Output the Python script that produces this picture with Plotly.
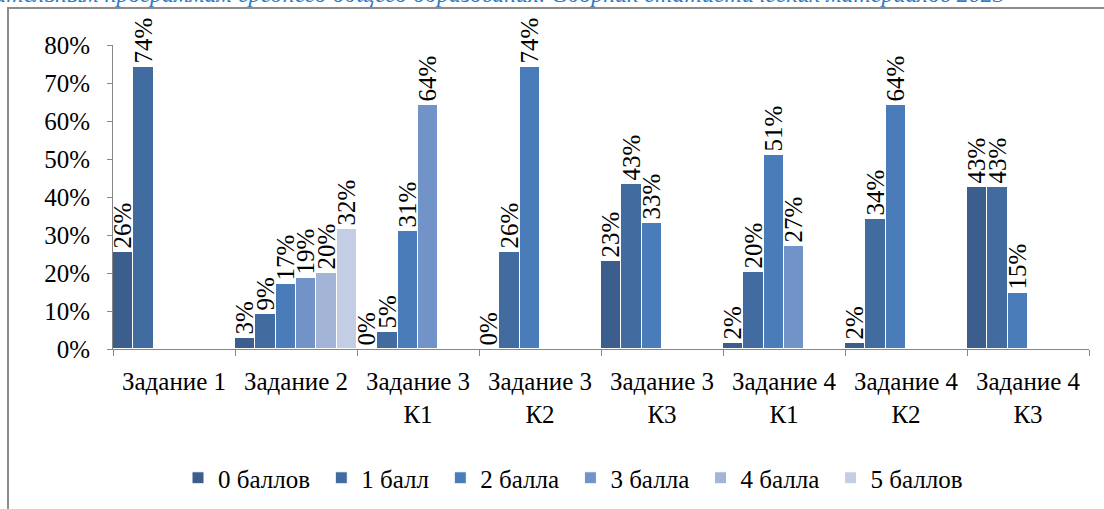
import plotly.graph_objects as go

categories = ["Задание 1", "Задание 2", "Задание 3<br>К1", "Задание 3<br>К2",
              "Задание 3<br>К3", "Задание 4<br>К1", "Задание 4<br>К2", "Задание 4<br>К3"]

series_names = ["0 баллов", "1 балл", "2 балла", "3 балла", "4 балла", "5 баллов"]

s0 = [25.5, 3.0, 0, 0, 23.2, 1.5, 1.5, 42.6]
s1 = [74.2, 9.3, 4.6, 25.5, 43.4, 20.2, 34.1, 42.6]
s2 = [None, 17.0, 31.0, 74.2, 33.1, 51.1, 64.2, 14.7]
s3 = [None, 18.6, 64.2, None, None, 27.1, None, None]
s4 = [None, 19.9, None, None, None, None, None, None]
s5 = [None, 31.6, None, None, None, None, None, None]
series_values = [s0, s1, s2, s3, s4, s5]

colors = ["#3B5E8C", "#426CA0", "#4A7CBA", "#7293C7", "#A3B4D7", "#C3CEE5"]

y_ticks = [0, 10, 20, 30, 40, 50, 60, 70, 80]

source_text = ("Результаты ГИА по образовательным программам среднего общего образования. "
               "Сборник статистических материалов 2023")

FONT = "Liberation Serif"
FS = 25

fig = go.Figure()
for i, (name, vals, col) in enumerate(zip(series_names, series_values, colors)):
    pad = "" if i == len(series_names) - 1 else "\u00a0"
    fig.add_trace(go.Bar(
        x=categories, y=vals, name=name + pad,
        marker=dict(color=col, line=dict(color="white", width=1)),
        text=["" if v is None else f"{round(v)}%" for v in vals],
        textposition="outside", textangle=-90, constraintext="none",
        cliponaxis=False,
        textfont=dict(family=FONT, size=FS, color="black"),
    ))

# plot area in pixels: x 113..1089, y 45..349
L, R, T, B = 113, 1089, 45, 349
W, H = R - L, B - T

fig.update_layout(
    width=1104, height=509,
    margin=dict(l=L, r=1104 - R, t=T, b=509 - B, autoexpand=False),
    barmode="group", bargap=0, bargroupgap=0,
    plot_bgcolor="white", paper_bgcolor="white",
    font=dict(family=FONT, size=FS, color="black"),
    showlegend=True,
    legend=dict(orientation="h", x=(573 - L) / W, xanchor="center",
                y=(B - 478) / H, yanchor="middle",
                font=dict(family=FONT, size=FS, color="black"),
                itemwidth=30, tracegroupgap=0),
    xaxis=dict(showline=True, linecolor="#868686", linewidth=1,
               ticks="outside", tickson="boundaries", ticklen=6, tickcolor="#868686",
               ticklabelstandoff=10, showgrid=False, automargin=False,
               tickfont=dict(family=FONT, size=FS, color="black")),
    yaxis=dict(range=[0, 80], tickvals=y_ticks, ticktext=[f"{v}%" for v in y_ticks],
               showline=True, linecolor="#868686", linewidth=1,
               ticks="outside", ticklen=5, tickcolor="#868686",
               ticklabelstandoff=12, showgrid=False, zeroline=False, automargin=False,
               tickfont=dict(family=FONT, size=FS, color="black")),
    shapes=[dict(type="rect", xref="paper", yref="paper",
                 x0=(8 - L) / W, x1=(1130 - L) / W,
                 y0=(B - 540) / H, y1=(B - 8) / H,
                 line=dict(color="#8C8C8C", width=2), fillcolor="rgba(0,0,0,0)",
                 layer="below")],
    annotations=[dict(text=source_text, xref="paper", yref="paper",
                      x=(1007 - L) / W, xanchor="right",
                      y=(B + 6) / H, yanchor="middle", showarrow=False,
                      font=dict(family=FONT, size=24, color="#2E7BC8", style="italic"))],
)

fig.write_html("out.html", config={"displayModeBar": False},
               post_script="document.body.style.margin='0';document.body.style.overflow='hidden';")
